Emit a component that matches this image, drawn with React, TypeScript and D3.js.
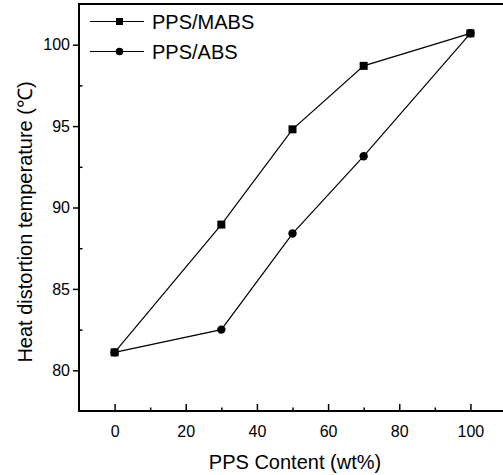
import React, { useEffect, useRef } from 'react';
import * as d3 from 'd3';

// PPS content (wt%)
const ppsContent = [0, 30, 50, 70, 100];
// heat distortion temperature (°C)
const mabsValues = [81.1, 88.95, 94.8, 98.7, 100.7];
const absValues = [81.1, 82.5, 88.4, 93.15, 100.7];
const xTicks = [0, 20, 40, 60, 80, 100];
const yTicks = [80, 85, 90, 95, 100];
const seriesNames = ['PPS/MABS', 'PPS/ABS'];

const W = 503;
const H = 475;

const App = () => {
    const ref = useRef<SVGSVGElement>(null);

    useEffect(() => {
        const svg = d3.select(ref.current);
        svg.selectAll('*').remove();

        const left = 79, right = 506, top = 4, bottom = 411;
        const x = d3.scaleLinear().domain([-10, 110]).range([left, right]);
        const y = d3.scaleLinear().domain([77.5, 102.5]).range([bottom, top]);
        const font = 'Liberation Sans, Arial, sans-serif';

        // x axis, ticks pointing inwards
        const xAxis = svg.append('g').attr('transform', `translate(0,${bottom})`)
            .call(d3.axisBottom(x).tickValues(xTicks).tickSize(-7).tickPadding(12).tickFormat(d3.format('d')));
        xAxis.select('.domain').remove();
        xAxis.selectAll('line').attr('stroke', '#000').attr('stroke-width', 1.5);
        xAxis.selectAll('text').attr('font-family', font).attr('font-size', 16).attr('fill', '#000').attr('dy', '0.9em');
        svg.append('g').attr('transform', `translate(0,${bottom})`)
            .call(d3.axisBottom(x).tickValues([10, 30, 50, 70, 90]).tickSize(-3.5).tickFormat(() => ''))
            .call(g => g.select('.domain').remove())
            .selectAll('line').attr('stroke', '#000').attr('stroke-width', 1.5);

        // y axis, major ticks outwards, minor inwards
        const yAxis = svg.append('g').attr('transform', `translate(${left},0)`)
            .call(d3.axisLeft(y).tickValues(yTicks).tickSize(6).tickPadding(3).tickFormat(d3.format('d')));
        yAxis.select('.domain').remove();
        yAxis.selectAll('line').attr('stroke', '#000').attr('stroke-width', 1.5);
        yAxis.selectAll('text').attr('font-family', font).attr('font-size', 16).attr('fill', '#000');
        svg.append('g').attr('transform', `translate(${left},0)`)
            .call(d3.axisLeft(y).tickValues([82.5, 87.5, 92.5, 97.5]).tickSize(-3.5).tickFormat(() => ''))
            .call(g => g.select('.domain').remove())
            .selectAll('line').attr('stroke', '#000').attr('stroke-width', 1.5);

        // frame
        svg.append('path')
            .attr('d', `M${right},${top}H${left}V${bottom}H${right}`)
            .attr('fill', 'none').attr('stroke', '#000').attr('stroke-width', 2);

        const line = d3.line<number>().x((d, i) => x(ppsContent[i])).y(d => y(d));

        svg.append('path').datum(absValues).attr('d', line)
            .attr('fill', 'none').attr('stroke', '#000').attr('stroke-width', 1.2);
        svg.append('path').datum(mabsValues).attr('d', line)
            .attr('fill', 'none').attr('stroke', '#000').attr('stroke-width', 1.2);

        svg.selectAll('.abs').data(absValues).enter().append('circle')
            .attr('cx', (d, i) => x(ppsContent[i])).attr('cy', d => y(d)).attr('r', 4.2).attr('fill', '#000');
        svg.selectAll('.mabs').data(mabsValues).enter().append('rect')
            .attr('x', (d, i) => x(ppsContent[i]) - 4).attr('y', d => y(d) - 4)
            .attr('width', 8).attr('height', 8).attr('fill', '#000');

        // legend
        const legend = svg.append('g');
        seriesNames.forEach((name, i) => {
            const ly = 21.5 + i * 30;
            legend.append('line').attr('x1', 90).attr('x2', 144).attr('y1', ly).attr('y2', ly)
                .attr('stroke', '#000').attr('stroke-width', 1.2);
            if (i === 0) {
                legend.append('rect').attr('x', 116).attr('y', ly - 3.5).attr('width', 7).attr('height', 7).attr('fill', '#000');
            } else {
                legend.append('circle').attr('cx', 119.5).attr('cy', ly).attr('r', 3.8).attr('fill', '#000');
            }
            legend.append('text').attr('x', 152).attr('y', ly).attr('dy', '0.36em')
                .attr('font-family', font).attr('font-size', 20).text(name);
        });

        svg.append('text').attr('x', 295).attr('y', 462).attr('dy', '0.36em').attr('text-anchor', 'middle')
            .attr('font-family', font).attr('font-size', 20).text('PPS Content (wt%)');
        svg.append('text').attr('transform', `translate(25,222) rotate(-90)`).attr('dy', '0.36em')
            .attr('text-anchor', 'middle').attr('font-family', font).attr('font-size', 20)
            .text('Heat distortion temperature (℃)');
    }, []);

    return (
        <svg ref={ref} width={W} height={H} style={{ display: 'block', position: 'absolute', left: 0, top: 0, background: '#fff' }}></svg>
    );
};

export default App;
